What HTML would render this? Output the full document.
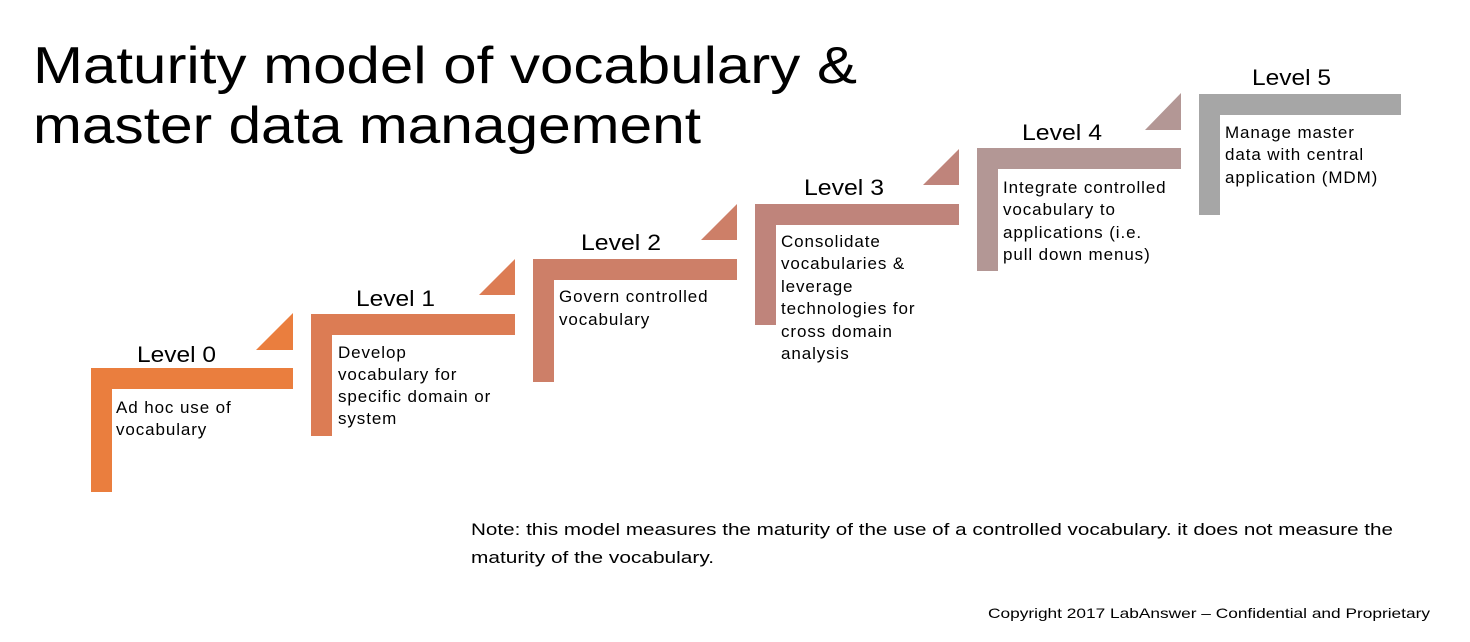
<!DOCTYPE html>
<html><head><meta charset="utf-8"><style>
html,body{margin:0;padding:0;background:#fff;}
svg{display:block;}
text{font-family:"Liberation Sans",sans-serif;fill:#000;}
.lv{font-size:22px;}
.b text{font-size:17px;letter-spacing:0.9px;}
</style></head><body>
<svg width="1470" height="642" viewBox="0 0 1470 642" xmlns="http://www.w3.org/2000/svg">
<text x="33" y="83" font-size="52" textLength="824" lengthAdjust="spacingAndGlyphs">Maturity model of vocabulary &amp;</text>
<text x="33" y="143" font-size="52" textLength="668" lengthAdjust="spacingAndGlyphs">master data management</text>

<path d="M91 368H293V389H112V492H91Z" fill="#ea7e3e"/>
<path d="M293 313V350H256Z" fill="#ea7e3e"/>
<path d="M311 314H515V335H332V436H311Z" fill="#dc7c54"/>
<path d="M515 259V295H479Z" fill="#dc7c54"/>
<path d="M533 259H737V280H554V382H533Z" fill="#cd7f68"/>
<path d="M737 204V240H701Z" fill="#cd7f68"/>
<path d="M755 204H959V225H776V325H755Z" fill="#bf847b"/>
<path d="M959 149V185H923Z" fill="#bf847b"/>
<path d="M977 148H1181V169H998V271H977Z" fill="#b39795"/>
<path d="M1181 93V130H1145Z" fill="#b39795"/>
<path d="M1199 94H1401V115H1220V215H1199Z" fill="#a6a6a6"/>

<text class="lv" x="137" y="362" textLength="79" lengthAdjust="spacingAndGlyphs">Level 0</text>
<text class="lv" x="356" y="306" textLength="79" lengthAdjust="spacingAndGlyphs">Level 1</text>
<text class="lv" x="581" y="250" textLength="80" lengthAdjust="spacingAndGlyphs">Level 2</text>
<text class="lv" x="804" y="195" textLength="80" lengthAdjust="spacingAndGlyphs">Level 3</text>
<text class="lv" x="1022" y="140" textLength="80" lengthAdjust="spacingAndGlyphs">Level 4</text>
<text class="lv" x="1252" y="85" textLength="79" lengthAdjust="spacingAndGlyphs">Level 5</text>

<g class="b">
<text x="116" y="413">Ad hoc use of</text>
<text x="116" y="435">vocabulary</text>

<text x="338" y="358">Develop</text>
<text x="338" y="380">vocabulary for</text>
<text x="338" y="402">specific domain or</text>
<text x="338" y="424">system</text>

<text x="559" y="302">Govern controlled</text>
<text x="559" y="325">vocabulary</text>

<text x="781" y="247">Consolidate</text>
<text x="781" y="269">vocabularies &amp;</text>
<text x="781" y="292">leverage</text>
<text x="781" y="314">technologies for</text>
<text x="781" y="337">cross domain</text>
<text x="781" y="359">analysis</text>

<text x="1003" y="193">Integrate controlled</text>
<text x="1003" y="215">vocabulary to</text>
<text x="1003" y="238">applications (i.e.</text>
<text x="1003" y="260">pull down menus)</text>

<text x="1225" y="138">Manage master</text>
<text x="1225" y="160">data with central</text>
<text x="1225" y="183">application (MDM)</text>
</g>

<text x="471" y="535" font-size="17" textLength="922" lengthAdjust="spacingAndGlyphs">Note: this model measures the maturity of the use of a controlled vocabulary.  it does not measure the</text>
<text x="471" y="563" font-size="17" textLength="243" lengthAdjust="spacingAndGlyphs">maturity of the vocabulary.</text>
<text x="988" y="618" font-size="14" textLength="442" lengthAdjust="spacingAndGlyphs">Copyright 2017 LabAnswer – Confidential and Proprietary</text>
</svg>
</body></html>
